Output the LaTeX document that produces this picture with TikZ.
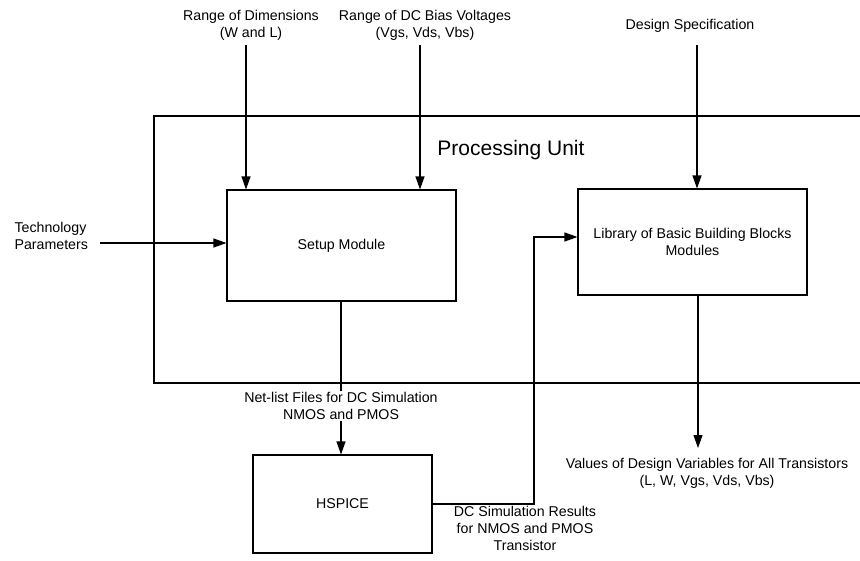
\documentclass[tikz,border=0pt]{standalone}
\usepackage{fontspec}
\setmainfont{Liberation Sans}
\usetikzlibrary{arrows.meta}
\begin{document}
\begin{tikzpicture}[x=1pt,y=-1pt,
  line width=1.1pt,
  txt/.style={font=\fontsize{14.2}{17}\selectfont, align=center, inner sep=1pt},
  blk/.style={draw, rectangle, inner sep=0pt, font=\fontsize{14.2}{17}\selectfont, align=center},
  arr/.style={-{Triangle[length=13pt,width=9pt]}}]
\useasboundingbox (0,0) rectangle (860,560);

% processing unit frame, open on the right
\draw (860,116) -- (154,116) -- (154,383) -- (860,383);
\node[font=\fontsize{21}{25}\selectfont] (pu) at (511,150) {Processing Unit};

% blocks
\node[blk, minimum width=229pt, minimum height=111pt] (setup) at (341.5,245.5) {Setup Module};
\node[blk, minimum width=229pt, minimum height=106pt] (lib) at (692.5,242) {Library of Basic Building Blocks\\Modules};
\node[blk, minimum width=179pt, minimum height=98pt] (hspice) at (342.5,504) {HSPICE};

% input labels
\node[txt] (dims) at (251,25) {Range of Dimensions\\(W and L)};
\node[txt] (bias) at (425,25) {Range of DC Bias Voltages\\(Vgs, Vds, Vbs)};
\node[txt] (spec) at (690,26) {Design Specification};
\node[txt, anchor=west, align=left] (tech) at (13,236) {Technology\\Parameters};

% helper coordinates for the connector lines
\coordinate (dimsx) at (246,45);
\coordinate (biasx) at (420,45);
\coordinate (specx) at (697,45);
\coordinate (techout) at (100,243);
\coordinate (fbturn) at (534,504);
\coordinate (valsx) at (698,448);

% inputs
\draw[arr] (dimsx) -- (setup.north -| dimsx);
\draw[arr] (biasx) -- (setup.north -| biasx);
\draw[arr] (specx) -- (lib.north -| specx);
\draw[arr] (techout) -- (setup.west |- techout);

% setup to HSPICE
\draw[arr] (setup.south -| 341,0) -- (hspice.north -| 341,0);
\node[txt, fill=white] (netlist) at (341,406) {Net-list Files for DC Simulation\\NMOS and PMOS};

% HSPICE results back to the library
\draw[arr] (hspice.east |- fbturn) -- (fbturn) |- ([yshift=5pt]lib.west);
\node[txt] (dcres) at (525,528) {DC Simulation Results\\for NMOS and PMOS\\Transistor};

% library output
\draw[arr] (lib.south -| valsx) -- (valsx);
\node[txt, anchor=north] (vals) at (707,457) {Values of Design Variables for All Transistors\\(L, W, Vgs, Vds, Vbs)};
\end{tikzpicture}
\end{document}
